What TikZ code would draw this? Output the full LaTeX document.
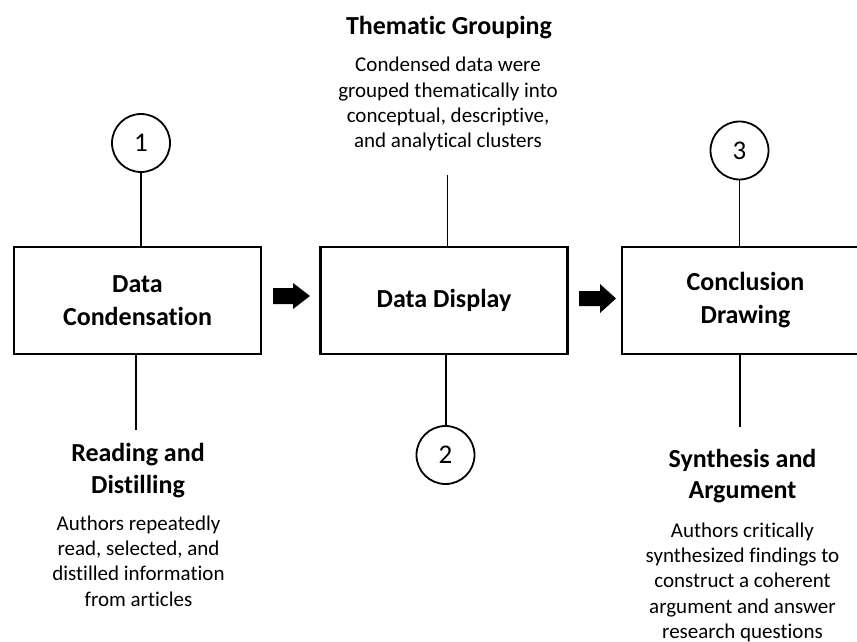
\documentclass[tikz,border=0pt]{standalone}
\usepackage{fontspec}
\setmainfont{Carlito}[Ligatures={NoCommon}]
\begin{document}
\begin{tikzpicture}[x=1pt,y=-1pt,
  box/.style={draw, line width=2.3pt, minimum width=247pt, minimum height=107pt, inner sep=0pt, align=center, font=\fontsize{26}{33}\selectfont\bfseries},
  numcirc/.style={draw, circle, line width=1.8pt, minimum size=58pt, inner sep=0pt, font=\fontsize{27}{30}\selectfont},
  link/.style={line width=1.3pt},
  title/.style={anchor=north, inner sep=0pt, align=center, font=\fontsize{26}{31.5}\selectfont\bfseries},
  body/.style={anchor=north, inner sep=0pt, align=center, font=\fontsize{21}{25.3}\selectfont},
  blockarrow/.style={fill=black}]
\useasboundingbox (0,0) rectangle (857,642);

% boxes
\node[box] (b1) at (137.5,300.5) {Data\\Condensation};
\node[box] (b2) at (444,300.5) {Data Display};
\node[box] (b3) at (745.5,300.5) {Conclusion\\Drawing};

% circles
\node[numcirc] (c1) at (141,143) {1};
\node[numcirc] (c2) at (445.5,455) {2};
\node[numcirc] (c3) at (739.5,150.5) {3};

% texts
\node[title] (t2) at (449,16) {Thematic Grouping};
\node[body] (d2) at (448,57) {Condensed data were\\grouped thematically into\\conceptual, descriptive,\\and analytical clusters};

\node[title] (t1) at (138,443.5) {Reading and\\Distilling};
\node[body] (d1) at (138.5,515.5) {Authors repeatedly\\read, selected, and\\distilled information\\from articles};

\node[title] (t3) at (742.5,449) {Synthesis and\\Argument};
\node[body] (d3) at (742.5,522.5) {Authors critically\\synthesized findings to\\construct a coherent\\argument and answer\\research questions};

% connectors
\coordinate (u2) at (447.7,175);
\coordinate (l1) at (136,430);
\coordinate (l3) at (740,427);
\draw[link] (c1.south) -- (c1.south |- b1.north);
\draw[link] (u2) -- (u2 |- b2.north);
\draw[link] (c3.south) -- (c3.south |- b3.north);
\draw[link] (l1 |- b1.south) -- (l1);
\draw[link] (c2.north -| 446,0) -- (446,0 |- b2.south);
\draw[link] (l3 |- b3.south) -- (l3);

% block arrows
\coordinate (a1) at (273,296);
\coordinate (a2) at (579,298.5);
\fill[blockarrow] (a1) ++(0,-8) -- ++(20,0) -- ++(0,-5) -- ++(17,13) -- ++(-17,13) -- ++(0,-5) -- ++(-20,0) -- cycle;
\fill[blockarrow] (a2) ++(0,-7.5) -- ++(21,0) -- ++(0,-7) -- ++(16,14.5) -- ++(-16,14.5) -- ++(0,-7) -- ++(-21,0) -- cycle;
\end{tikzpicture}
\end{document}
